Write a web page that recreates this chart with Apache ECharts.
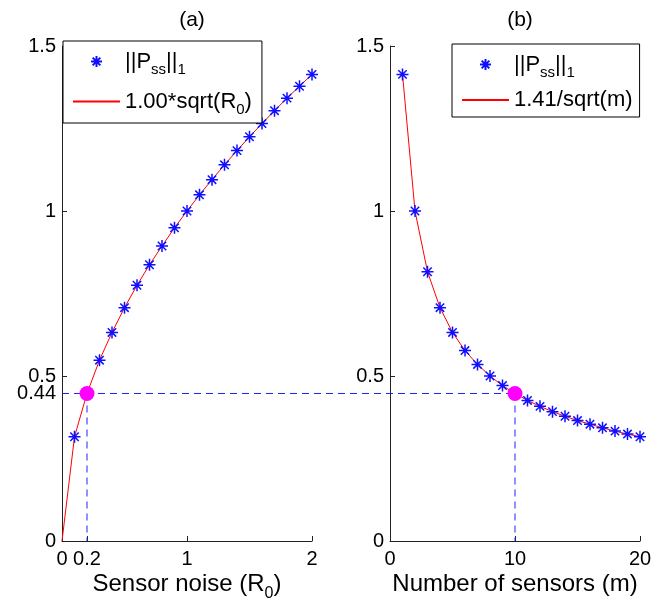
<!DOCTYPE html>
<html>
<head>
<meta charset="utf-8">
<script src="https://cdn.jsdelivr.net/npm/echarts@6/dist/echarts.min.js"></script>
<style>
  html, body { margin: 0; padding: 0; background: #fff; }
  #main { width: 660px; height: 600px; }
</style>
</head>
<body>
<div id="main"></div>
<script>
// (a) sensor noise R0 vs ||Pss||_1
const noiseR0 = [0.1, 0.2, 0.3, 0.4, 0.5, 0.6, 0.7, 0.8, 0.9, 1.0, 1.1, 1.2, 1.3, 1.4, 1.5, 1.6, 1.7, 1.8, 1.9, 2.0]
const pssNoise = [0.316, 0.447, 0.548, 0.632, 0.707, 0.775, 0.837, 0.894, 0.949, 1.0, 1.049, 1.095, 1.140, 1.183, 1.225, 1.265, 1.304, 1.342, 1.378, 1.414]
const fitNoiseX = [0, 0.1, 0.2, 0.3, 0.4, 0.5, 0.6, 0.7, 0.8, 0.9, 1.0, 1.1, 1.2, 1.3, 1.4, 1.5, 1.6, 1.7, 1.8, 1.9, 2.0]
const fitNoiseY = [0, 0.316, 0.447, 0.548, 0.632, 0.707, 0.775, 0.837, 0.894, 0.949, 1.0, 1.049, 1.095, 1.140, 1.183, 1.225, 1.265, 1.304, 1.342, 1.378, 1.414]

// (b) number of sensors m vs ||Pss||_1
const sensorsM = [1, 2, 3, 4, 5, 6, 7, 8, 9, 10, 11, 12, 13, 14, 15, 16, 17, 18, 19, 20]
const pssSensors = [1.414, 1.0, 0.816, 0.707, 0.632, 0.577, 0.535, 0.5, 0.471, 0.447, 0.426, 0.408, 0.392, 0.378, 0.365, 0.354, 0.343, 0.333, 0.324, 0.316]
const fitSensors = [1.414, 1.0, 0.816, 0.707, 0.632, 0.577, 0.535, 0.5, 0.471, 0.447, 0.426, 0.408, 0.392, 0.378, 0.365, 0.354, 0.343, 0.333, 0.324, 0.316]

// highlighted operating point
const crossY = 0.447
const crossA = 0.2
const crossB = 10

// ticks
const xTicksA = [0, 0.2, 1, 2]
const xTickLabelsA = ['0', '0.2', '1', '2']
const yTicksA = [0, 0.447, 0.5, 1, 1.5]
const yTickLabelsA = ['0', '0.44', '0.5', '1', '1.5']
const xTicksB = [0, 10, 20]
const yTicksB = [0, 0.5, 1, 1.5]

const FONT = 'Liberation Sans'
const starPath = 'path://M6 0V12M0 6H12M1.8 1.8L10.2 10.2M10.2 1.8L1.8 10.2'
const STAR = '#1010ff'
const GUIDE = '#2020ff'

const subRich = {
  s: { fontSize: 15, fontFamily: FONT, color: '#000', lineHeight: 6, padding: [16, 0, 0, 0] }
}

const legendText = {
  pss: '||P{s|ss}||{s|1}',
  fitA: '1.00*sqrt(R{s|0})',
  fitB: '1.41/sqrt(m)'
}

const axisLineStyle = { color: '#222', width: 1 }

const makeX = (idx, min, max, ticks, labels, name) => ({
  type: 'value',
  gridIndex: idx,
  min: min,
  max: max,
  splitLine: { show: false },
  axisLine: { lineStyle: axisLineStyle },
  axisTick: { inside: true, length: 5, customValues: ticks, lineStyle: axisLineStyle },
  axisLabel: {
    customValues: ticks,
    color: '#000',
    fontSize: 20,
    fontFamily: FONT,
    margin: 8,
    formatter: (v) => labels[ticks.indexOf(v)]
  },
  name: name,
  nameLocation: 'middle',
  nameGap: 23,
  nameMoveOverlap: false,
  nameTextStyle: {
    color: '#000', fontSize: 24, fontFamily: FONT, lineHeight: 40,
    rich: { s: { fontSize: 16, fontFamily: FONT, color: '#000', padding: [20, 0, 0, 0] } }
  }
})

const makeY = (idx, ticks, labels) => ({
  type: 'value',
  gridIndex: idx,
  min: 0,
  max: 1.5,
  splitLine: { show: false },
  axisLine: { lineStyle: axisLineStyle },
  axisTick: { inside: true, length: 5, customValues: ticks, lineStyle: axisLineStyle },
  axisLabel: {
    customValues: ticks,
    color: '#000',
    fontSize: 20,
    fontFamily: FONT,
    margin: 6,
    formatter: (v) => labels[ticks.indexOf(v)]
  }
})

const makeLegend = (left, top, fitName, padding, gap) => ({
  left: left,
  top: top,
  orient: 'vertical',
  data: ['pss', { name: fitName, itemStyle: { opacity: 0 } }],
  itemWidth: 47,
  itemHeight: 11,
  itemGap: gap,
  padding: padding,
  backgroundColor: '#fff',
  borderColor: '#000',
  borderWidth: 1,
  borderRadius: 0,
  selectedMode: false,
  formatter: (n) => legendText[n],
  textStyle: { color: '#000', fontSize: 22, fontFamily: FONT, lineHeight: 24, rich: subRich }
})

const guide = (id, xi, data) => ({
  id: id, type: 'line', xAxisIndex: xi, yAxisIndex: xi, silent: true, symbol: 'none', z: 1,
  lineStyle: { color: GUIDE, width: 1, type: [7, 5], opacity: 1 },
  itemStyle: { color: GUIDE },
  data: data
})

const chart = echarts.init(document.getElementById('main'))

const option = {
  animation: false,
  backgroundColor: '#fff',
  title: [
    { text: '(a)', left: 187, top: 5, textAlign: 'center', textStyle: { color: '#000', fontSize: 21, fontWeight: 'normal', fontFamily: FONT } },
    { text: '(b)', left: 515, top: 5, textAlign: 'center', textStyle: { color: '#000', fontSize: 21, fontWeight: 'normal', fontFamily: FONT } }
  ],
  grid: [
    { left: 62, top: 46, width: 250, height: 495, outerBoundsMode: 'none' },
    { left: 390, top: 46, width: 250, height: 495, outerBoundsMode: 'none' },
    // hidden overlay spanning both panels, carries the shared horizontal guide
    { left: 62, top: 46, width: 578, height: 495, outerBoundsMode: 'none' }
  ],
  xAxis: [
    makeX(0, 0, 2, xTicksA, xTickLabelsA, 'Sensor noise (R{s|0})'),
    makeX(1, 0, 20, xTicksB, ['0', '10', '20'], 'Number of sensors (m)'),
    { type: 'value', gridIndex: 2, min: 0, max: 1, show: false }
  ],
  yAxis: [
    makeY(0, yTicksA, yTickLabelsA),
    makeY(1, yTicksB, ['0', '0.5', '1', '1.5']),
    { type: 'value', gridIndex: 2, min: 0, max: 1.5, show: false }
  ],
  legend: [
    makeLegend(63, 41, 'fitA', [5, 10, 6, 9], 9),
    makeLegend(452, 44, 'fitB', [5, 7, 5, 9], 8)
  ],
  series: [
    guide('guideVA', 0, [[crossA, crossY], [crossA, 0]]),
    guide('guideVB', 1, [[crossB, crossY], [crossB, 0]]),
    {
      name: 'fitA', type: 'line', xAxisIndex: 0, yAxisIndex: 0, symbol: 'none', z: 2,
      lineStyle: { color: '#ff0000', width: 1 }, itemStyle: { color: '#ff0000' },
      data: fitNoiseX.map((x, i) => [x, fitNoiseY[i]])
    },
    {
      name: 'fitB', type: 'line', xAxisIndex: 1, yAxisIndex: 1, symbol: 'none', z: 2,
      lineStyle: { color: '#ff0000', width: 1 }, itemStyle: { color: '#ff0000' },
      data: sensorsM.map((m, i) => [m, fitSensors[i]])
    },
    {
      name: 'pss', type: 'scatter', xAxisIndex: 0, yAxisIndex: 0, z: 3,
      symbol: starPath, symbolSize: 12, symbolKeepAspect: true,
      itemStyle: { color: 'none', borderColor: STAR, borderWidth: 1.5, opacity: 1 },
      emphasis: { disabled: true },
      data: noiseR0.map((x, i) => [x, pssNoise[i]])
    },
    {
      name: 'pss', type: 'scatter', xAxisIndex: 1, yAxisIndex: 1, z: 3,
      symbol: starPath, symbolSize: 12, symbolKeepAspect: true,
      itemStyle: { color: 'none', borderColor: STAR, borderWidth: 1.5, opacity: 1 },
      emphasis: { disabled: true },
      data: sensorsM.map((m, i) => [m, pssSensors[i]])
    },
    {
      type: 'scatter', xAxisIndex: 0, yAxisIndex: 0, z: 5, symbolSize: 15,
      itemStyle: { color: '#ff00ff', opacity: 1 }, emphasis: { disabled: true },
      data: [[crossA, crossY]]
    },
    {
      type: 'scatter', xAxisIndex: 1, yAxisIndex: 1, z: 5, symbolSize: 15,
      itemStyle: { color: '#ff00ff', opacity: 1 }, emphasis: { disabled: true },
      data: [[crossB, crossY]]
    }
  ]
}

chart.setOption(option)

// run the horizontal guide from the left axis of (a) to the point in (b),
// locating that point on the overlay's x scale, then add it as a new series
const c0 = chart.convertToPixel({ gridIndex: 2 }, [0, crossY])
const c1 = chart.convertToPixel({ gridIndex: 2 }, [1, crossY])
const pb = chart.convertToPixel({ gridIndex: 1 }, [crossB, crossY])
const endInC = (pb[0] - c0[0]) / (c1[0] - c0[0])
option.series.unshift(guide('guideH', 2, [[0, crossY], [endInC, crossY]]))
chart.setOption(option, true)
</script>
</body>
</html>
